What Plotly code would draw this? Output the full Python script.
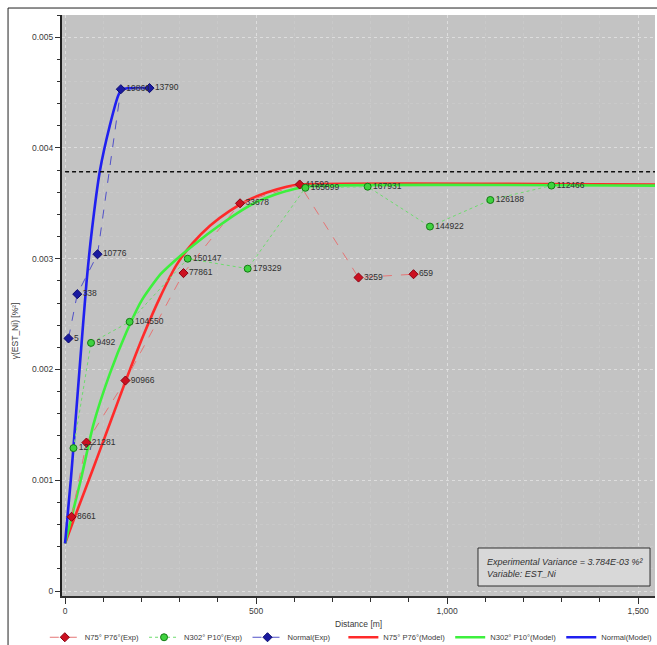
import plotly.graph_objects as go

# Experimental variogram points per direction: lag distance [m], gamma, pair-count labels
red_exp_x = [17, 56, 158, 310, 458, 614, 768, 912]
red_exp_y = [0.00067, 0.00134, 0.00190, 0.00287, 0.00350, 0.00367, 0.00283, 0.00286]
red_exp_lbl = ["8661", "21281", "90966", "77861", "33678", "41592", "3259", "659"]

green_exp_x = [22, 68, 169, 321, 478, 629, 792, 955, 1113, 1273]
green_exp_y = [0.00129, 0.00224, 0.00243, 0.00300, 0.00291, 0.00364, 0.00365, 0.00329, 0.00353, 0.00366]
green_exp_lbl = ["127", "9492", "104550", "150147", "179329", "165899", "167931", "144922", "126188", "112466"]

blue_exp_x = [9, 32, 85, 146, 221]
blue_exp_y = [0.00228, 0.00268, 0.00304, 0.00453, 0.00454]
blue_exp_lbl = ["5", "338", "10776", "19860", "13790"]

# Fitted model curves, sampled along distance
red_mod_x = [0, 30, 74, 117, 160, 204, 247, 291, 334, 380, 430, 480, 530, 580, 614, 1544]
red_mod_y = [0.00043, 0.00071, 0.00111, 0.00151, 0.00191, 0.00230, 0.00264, 0.00294, 0.00314,
             0.00330, 0.00343, 0.00353, 0.00360, 0.00365, 0.00367, 0.00367]

green_mod_x = [0, 41, 74, 117, 161, 200, 250, 300, 350, 400, 450, 500, 550, 600, 640, 1544]
green_mod_y = [0.00043, 0.00100, 0.00150, 0.00196, 0.00234, 0.00262, 0.00286, 0.00302, 0.00316,
               0.00329, 0.00341, 0.00351, 0.00358, 0.00363, 0.003655, 0.00366]

blue_mod_x = [0, 15, 22, 39, 56, 70, 91, 117, 140, 150, 225]
blue_mod_y = [0.00043, 0.00100, 0.00130, 0.00205, 0.00278, 0.00325, 0.00379, 0.00420, 0.00448,
              0.00453, 0.00454]

exp_variance = 0.003784
variance_text = "Experimental Variance = 3.784E-03 %²"
variable_text = "Variable: EST_Ni"

x_range = [-8, 1544]
y_range = [-0.000045, 0.0052]

FONT = "Liberation Sans"
TEXT = "#3a3a3a"

fig = go.Figure()

# Model curves (drawn underneath the experimental points), listed in the second legend
for name, xs, ys, col in [
    ("N75° P76°(Model)", red_mod_x, red_mod_y, "#ff2a2a"),
    ("N302° P10°(Model)", green_mod_x, green_mod_y, "#3df03d"),
    ("Normal(Model)", blue_mod_x, blue_mod_y, "#2020f0"),
]:
    fig.add_trace(go.Scatter(
        x=xs, y=ys, name=name, mode="lines", legend="legend2",
        line=dict(color=col, width=2.6, shape="spline", smoothing=0.6),
    ))

# Experimental variograms with pair-count labels
for name, xs, ys, lbl, lcol, dash, mcol, mline, sym in [
    ("N75° P76°(Exp)", red_exp_x, red_exp_y, red_exp_lbl, "#e57575", "dash", "#cc1020", "#8a0010", "diamond"),
    ("N302° P10°(Exp)", green_exp_x, green_exp_y, green_exp_lbl, "#6edc6e", "dot", "#3fd23f", "#147a14", "circle"),
    ("Normal(Exp)", blue_exp_x, blue_exp_y, blue_exp_lbl, "#5050c8", "dash", "#1a1aa0", "#0a0a70", "diamond"),
]:
    fig.add_trace(go.Scatter(
        x=xs, y=ys, name=name, mode="lines+markers+text", legend="legend",
        text=lbl, textposition="middle right",
        textfont=dict(family=FONT, size=8.5, color="#303030"),
        line=dict(color=lcol, width=1, dash=dash),
        marker=dict(color=mcol, size=7, symbol=sym, line=dict(color=mline, width=1)),
        cliponaxis=False,
    ))

# Experimental variance reference line
fig.add_shape(type="line", xref="x", yref="y", x0=0, x1=x_range[1],
              y0=exp_variance, y1=exp_variance,
              line=dict(color="#101010", width=1.5, dash="4px,3px"))

# Info box
fig.add_shape(type="rect", xref="paper", yref="paper", x0=0.7015, x1=0.9916, y0=0.0172, y1=0.0826,
              fillcolor="#d8d8d8", line=dict(color="#303030", width=1))
fig.add_annotation(xref="paper", yref="paper", x=0.714, y=0.0585, xanchor="left", yanchor="middle",
                   text="<i>" + variance_text + "</i>", showarrow=False,
                   font=dict(family=FONT, size=9, color="#303030"))
fig.add_annotation(xref="paper", yref="paper", x=0.714, y=0.038, xanchor="left", yanchor="middle",
                   text="<i>" + variable_text + "</i>", showarrow=False,
                   font=dict(family=FONT, size=9, color="#303030"))

# Axis titles
fig.add_annotation(xref="paper", yref="paper", x=0.5, y=-0.049, xanchor="center", yanchor="middle",
                   text="Distance [m]", showarrow=False, font=dict(family=FONT, size=8.5, color=TEXT))
fig.add_annotation(xref="paper", yref="paper", x=-0.079, y=0.456, xanchor="center", yanchor="middle",
                   text="γ(EST_Ni) [%²]", textangle=-90, showarrow=False,
                   font=dict(family=FONT, size=8.5, color=TEXT))

# Outer frame
fig.add_shape(type="rect", xref="paper", yref="paper", x0=-0.091, x1=1.2, y0=-0.3, y1=1.012,
              line=dict(color="#202020", width=1), fillcolor="rgba(0,0,0,0)", layer="below")

fig.update_xaxes(
    range=x_range, tick0=0, dtick=500, tickformat=",d",
    ticks="outside", ticklen=6, tickcolor="#303030",
    showline=True, linecolor="#303030", linewidth=1.5,
    showgrid=True, gridcolor="rgba(232,232,232,0.7)", griddash="dot", gridwidth=1,
    zeroline=False,
    minor=dict(dtick=100, ticks="outside", ticklen=4, tickcolor="#303030",
               showgrid=True, gridcolor="rgba(212,212,212,0.35)", griddash="dot"),
    tickfont=dict(family=FONT, size=8.5, color=TEXT),
)
fig.update_yaxes(
    range=y_range, tick0=0, dtick=0.001,
    ticks="outside", ticklen=5, tickcolor="#303030",
    showline=True, linecolor="#202020", linewidth=2,
    showgrid=True, gridcolor="rgba(232,232,232,0.7)", griddash="dot", gridwidth=1,
    zeroline=False,
    minor=dict(dtick=0.0002, ticks="outside", ticklen=3, tickcolor="#303030",
               showgrid=True, gridcolor="rgba(212,212,212,0.35)", griddash="dot"),
    tickfont=dict(family=FONT, size=8.5, color=TEXT),
)

legend_common = dict(orientation="h", yanchor="middle", y=-0.071,
                     font=dict(family=FONT, size=7.6, color=TEXT), itemwidth=30,
                     bgcolor="rgba(0,0,0,0)", borderwidth=0)

fig.update_layout(
    width=657, height=645,
    margin=dict(l=62, r=2, t=15, b=49, autoexpand=False),
    paper_bgcolor="white", plot_bgcolor="#c3c3c3",
    font=dict(family=FONT, size=8.5, color=TEXT),
    legend=dict(x=-0.029, xanchor="left", **legend_common),
    legend2=dict(x=1.004, xanchor="right", **legend_common),
    showlegend=True,
)

fig.write_html("out.html")
